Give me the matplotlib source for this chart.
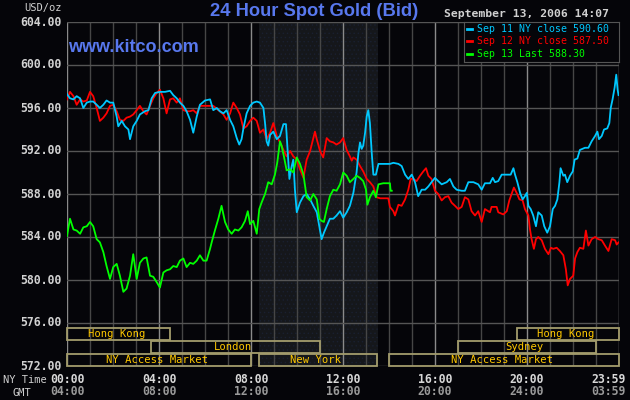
import numpy as np
import matplotlib
matplotlib.use("Agg")
import matplotlib.pyplot as plt
from matplotlib.patches import Rectangle

# Sep 11 NY close (cyan)
sep11_t = [0.0, 0.13, 0.28, 0.42, 0.57, 0.71, 0.86, 1.0, 1.14, 1.29, 1.43, 1.58, 1.72, 1.87, 2.01, 2.16, 2.23, 2.38,
           2.52, 2.67, 2.74, 2.88, 3.03, 3.17, 3.39, 3.54, 3.68, 3.83, 4.04, 4.26, 4.48, 4.62, 4.77, 4.91, 5.06, 5.20,
           5.35, 5.49, 5.64, 5.78, 6.00, 6.22,
           6.36, 6.51, 6.65, 6.80, 6.94, 7.09, 7.23, 7.38, 7.49, 7.59, 7.67, 7.81, 7.96, 8.10, 8.25, 8.39, 8.54, 8.61,
           8.68, 8.75, 8.83, 8.97, 9.12, 9.26, 9.41, 9.52, 9.58, 9.67, 9.77, 9.84, 9.91, 9.99, 10.13, 10.28, 10.42,
           10.57, 10.71, 10.86, 10.97, 11.07, 11.17, 11.29, 11.43, 11.58, 11.72, 11.87, 12.01, 12.16, 12.30,
           12.45, 12.59, 12.67, 12.74, 12.81, 12.88, 12.96, 13.03, 13.10, 13.17, 13.25, 13.32, 13.43, 13.54, 13.75,
           14.04, 14.19, 14.41, 14.55, 14.70, 14.84, 14.99, 15.13, 15.27, 15.42, 15.57, 15.71, 15.85, 16.00, 16.14,
           16.29, 16.51, 16.65, 16.80, 16.94, 17.16, 17.30, 17.45, 17.67, 17.88, 18.03, 18.17, 18.39,
           18.51, 18.61, 18.75, 18.90, 19.12, 19.29, 19.41, 19.48, 19.58, 19.70, 19.81, 19.91, 19.99, 20.06, 20.16,
           20.27, 20.39, 20.49, 20.64, 20.75, 20.88, 21.00, 21.12, 21.22, 21.32, 21.41, 21.46, 21.58, 21.65, 21.75,
           21.87, 21.99, 22.07, 22.19, 22.30, 22.52, 22.67, 22.81, 22.96, 23.06, 23.13, 23.25, 23.35, 23.49, 23.58,
           23.64, 23.72, 23.81, 23.88, 23.94, 23.98]
sep11_p = [597.3, 596.9, 596.8, 597.1, 596.9, 596.0, 596.5, 596.6, 596.6, 596.3, 596.0, 596.3, 596.7, 596.5, 596.5,
           595.2, 594.3, 594.8, 594.3, 594.0, 593.1, 594.3, 594.8, 595.4, 595.7, 595.8, 596.9, 597.4, 597.5, 597.5,
           597.6, 597.2, 596.9, 596.5, 596.2, 595.7, 594.9, 593.7, 595.2, 596.3, 596.7, 596.8,
           595.8, 596.0, 595.7, 595.5, 595.8, 594.9, 594.3, 593.2, 592.6, 593.1, 594.1, 595.5, 596.2, 596.5, 596.6,
           596.5, 596.0, 594.6, 592.9, 592.5, 593.5, 593.8, 593.1, 593.4, 594.5, 594.5, 592.5, 589.4, 590.6, 591.2,
           588.4, 586.3, 587.2, 587.8, 588.0, 587.5, 586.9, 586.3, 585.0, 583.8, 584.4, 585.0, 585.7, 585.7, 586.0,
           586.4, 585.8, 586.3, 586.9,
           588.1, 590.0, 591.8, 592.8, 592.2, 592.5, 593.7, 595.2, 595.8, 594.6, 591.8, 589.8, 589.8, 590.8, 590.8,
           590.8, 590.9, 590.8, 590.6, 589.8, 589.4, 589.8, 589.1, 587.8, 588.4, 588.4, 588.7, 589.1, 589.5, 589.2,
           588.9, 589.1, 589.4, 588.7, 588.4, 588.3, 588.3, 589.1, 589.1, 588.9, 588.4, 589.0, 589.0,
           589.5, 589.1, 589.2, 589.8, 589.8, 589.8, 590.4, 589.8, 589.1, 588.1, 587.5, 587.8, 588.1, 586.9, 586.6,
           586.0, 585.0, 586.3, 586.0, 585.0, 584.4, 585.0, 586.6, 586.9, 587.5, 589.1, 590.4, 589.7, 589.8, 589.1,
           589.7, 590.1, 591.2, 591.3, 592.1, 592.3, 592.3, 592.9, 593.4, 593.8, 593.1, 593.4, 594.0, 594.1, 594.6,
           596.0, 596.8, 597.9, 599.1, 597.7, 597.2]

# Sep 12 NY close (red)
sep12_t = [0.0, 0.13, 0.28, 0.42, 0.57, 0.71, 0.86, 1.0, 1.14, 1.29, 1.43, 1.58, 1.72, 1.87, 2.01, 2.16, 2.30, 2.45,
           2.59, 2.74, 2.88, 3.03, 3.17, 3.32, 3.46, 3.61, 3.75, 3.90, 4.04, 4.19, 4.33, 4.48, 4.62, 4.77, 4.91, 5.06,
           5.20, 5.35, 5.49, 5.64, 5.78, 6.00, 6.22,
           6.36, 6.58, 6.80, 6.94, 7.09, 7.23, 7.38, 7.52, 7.67, 7.81, 7.96, 8.10, 8.25, 8.39, 8.54, 8.68, 8.83, 8.97,
           9.12, 9.26, 9.41, 9.55, 9.70, 9.84, 9.99, 10.13, 10.28, 10.42, 10.57, 10.71, 10.78, 10.86, 11.00, 11.14,
           11.29, 11.43, 11.58, 11.72, 11.87, 12.01, 12.16, 12.30,
           12.38, 12.45, 12.59, 12.74, 12.88, 13.03, 13.17, 13.32, 13.46, 13.61, 13.97, 14.04, 14.19, 14.26, 14.41,
           14.55, 14.70, 14.84, 14.94, 15.06, 15.20, 15.35, 15.49, 15.61, 15.71, 15.85, 16.00, 16.14, 16.29, 16.43,
           16.58, 16.72, 16.87, 17.01, 17.16, 17.30, 17.45, 17.59, 17.74, 17.88, 18.03, 18.17, 18.39,
           18.46, 18.68, 18.75, 18.97, 19.12, 19.23, 19.33, 19.43, 19.55, 19.67, 19.81, 19.91, 20.06, 20.13, 20.20,
           20.30, 20.39, 20.49, 20.64, 20.78, 20.93, 21.04, 21.14, 21.29, 21.43, 21.58, 21.69, 21.77, 21.87, 22.01,
           22.09, 22.19, 22.30, 22.45, 22.56, 22.67, 22.81, 22.96, 23.10, 23.25, 23.39, 23.54, 23.68, 23.83, 23.90,
           23.98]
sep12_p = [596.8, 597.5, 597.1, 596.3, 596.8, 596.6, 596.7, 597.5, 597.1, 596.0, 594.8, 595.1, 595.5, 596.2, 596.3,
           595.7, 594.9, 594.8, 595.1, 595.2, 595.4, 595.8, 596.2, 595.7, 595.4, 596.2, 596.9, 597.4, 597.7, 596.9,
           595.5, 596.8, 596.9, 596.5, 596.9, 595.8, 595.7, 595.7, 595.8, 595.5, 596.2, 596.2, 596.2,
           596.2, 595.8, 595.4, 594.9, 595.5, 596.5, 596.0, 595.4, 594.1, 594.3, 594.8, 595.1, 594.8, 593.7, 594.0,
           593.1, 593.7, 594.6, 593.4, 592.8, 592.1, 591.5, 592.0, 591.5, 591.2, 590.3, 589.5, 591.2, 592.0, 593.2,
           593.8, 593.1, 592.0, 591.4, 593.2, 592.9, 592.8, 592.6, 592.8, 593.2, 592.1, 591.5,
           591.1, 591.4, 591.2, 590.6, 590.1, 589.4, 589.1, 588.7, 587.7, 587.6, 587.6, 586.8, 586.4, 586.0, 587.0,
           586.9, 587.5, 588.4, 589.4, 589.4, 589.2, 589.7, 590.1, 590.4, 589.7, 589.4, 588.3, 588.0, 587.4, 587.7,
           587.8, 587.2, 586.9, 586.6, 586.8, 587.7, 587.5, 586.4, 586.0, 586.4, 585.4, 586.6, 586.3,
           586.8, 586.8, 586.3, 586.1, 586.4, 587.4, 588.0, 588.6, 588.1, 587.5, 587.4, 586.6, 586.0, 584.7, 583.8,
           582.9, 583.8, 584.0, 583.7, 582.9, 582.4, 583.0, 582.9, 583.0, 582.7, 582.3, 581.0, 579.5, 580.1, 580.4,
           582.0, 582.6, 583.0, 582.9, 584.6, 583.2, 583.8, 584.0, 583.8, 583.7, 583.2, 582.7, 583.8, 583.7, 583.3,
           583.5]

# Sep 13 last (green)
sep13_t = [0.0, 0.13, 0.28, 0.42, 0.57, 0.71, 0.86, 1.0, 1.14, 1.29, 1.43, 1.58, 1.72, 1.87, 2.01, 2.16, 2.30, 2.45,
           2.59, 2.74, 2.88, 3.03, 3.17, 3.32, 3.46, 3.61, 3.75, 3.90, 4.04, 4.19, 4.33, 4.48, 4.62, 4.77, 4.91, 5.06,
           5.20, 5.35, 5.49, 5.64, 5.78, 5.93, 6.07, 6.22,
           6.29, 6.43, 6.58, 6.72, 6.87, 7.01, 7.16, 7.30, 7.45, 7.59, 7.74, 7.86, 7.96, 8.10, 8.25, 8.36, 8.46, 8.61,
           8.75, 8.90, 9.04, 9.14, 9.26, 9.33, 9.43, 9.55, 9.70, 9.84, 9.99, 10.13, 10.28, 10.42, 10.57, 10.71, 10.86,
           10.97, 11.07, 11.17, 11.29, 11.43, 11.58, 11.72, 11.87, 12.01, 12.16, 12.30,
           12.45, 12.59, 12.74, 12.88, 13.00, 13.06, 13.17, 13.32, 13.43, 13.54, 13.75, 14.04, 14.07, 14.12]
sep13_p = [584.1, 585.7, 584.7, 584.6, 584.3, 584.9, 585.0, 585.4, 585.0, 583.8, 583.5, 582.6, 581.3, 580.1, 581.2,
           581.5, 580.4, 578.9, 579.2, 580.4, 582.4, 580.1, 581.6, 582.0, 582.1, 580.4, 580.3, 579.8, 579.3, 580.7,
           580.9, 581.0, 581.3, 581.2, 581.8, 582.0, 581.2, 581.6, 581.5, 581.8, 582.3, 581.8, 581.8, 582.9,
           583.5, 584.6, 585.7, 586.9, 585.4, 584.7, 584.3, 584.7, 584.6, 584.9, 585.5, 586.4, 585.2, 585.5, 584.3,
           586.6, 587.2, 588.0, 589.1, 588.9, 589.8, 590.9, 592.9, 592.5, 591.5, 590.2, 590.3, 590.0, 591.4, 590.8,
           589.8, 587.7, 587.4, 588.0, 587.5, 585.7, 585.5, 585.4, 586.6, 587.8, 588.4, 588.3, 588.9, 590.0, 589.7,
           589.1,
           589.4, 589.7, 589.5, 589.2, 588.4, 587.0, 587.7, 588.3, 587.7, 588.9, 589.0, 589.0, 588.3, 588.3]

legend_labels = ["Sep 11 NY close 590.60", "Sep 12 NY close 587.50", "Sep 13 Last 588.30"]

# trading sessions: name, start hour, end hour, row (0 = top)
session_names = ["Hong Kong", "London", "NY Access Market", "New York", "NY Access Market", "Sydney", "Hong Kong"]
session_start = [0.0, 3.65, 0.0, 8.33, 14.0, 17.0, 19.55]
session_end = [4.5, 11.0, 8.0, 13.5, 24.0, 23.0, 24.0]
session_row = [0, 1, 2, 2, 2, 1, 0]

ny_hours = [0, 4, 8, 12, 16, 20, 24]
ny_labels = ["00:00", "04:00", "08:00", "12:00", "16:00", "20:00", "23:59"]
gmt_labels = ["04:00", "08:00", "12:00", "16:00", "20:00", "24:00", "03:59"]
price_ticks = [572, 576, 580, 584, 588, 592, 596, 600, 604]

BG = "#050509"
MONO = "DejaVu Sans Mono"
BLUE = "#5878ee"

fig = plt.figure(figsize=(6.3, 4.0), dpi=100, facecolor=BG)
ax = fig.add_axes([67 / 630, 34 / 400, 552 / 630, 344 / 400])
ax.set_facecolor(BG)
ax.set_xlim(0, 24)
ax.set_ylim(572, 604)

# comex session shading
plt.rcParams["hatch.linewidth"] = 0.5
ax.axvspan(8.33, 13.5, facecolor="#15171b", edgecolor="#1a2030", hatch="....", linewidth=0, zorder=0)

# grid
for h in range(25):
    c = "#8a8a8a" if h % 4 == 0 else "#464646"
    ax.axvline(h, color=c, linewidth=1.0, zorder=1)
for p in price_ticks:
    ax.axhline(p, color="#555555", linewidth=1.0, zorder=1)

for s in ax.spines.values():
    s.set_visible(False)
ax.set_xticks([])
ax.set_yticks([])

# price series
ax.plot(sep11_t, sep11_p, color="#00c8ff", linewidth=1.3, zorder=4)
ax.plot(sep12_t, sep12_p, color="#ff0000", linewidth=1.3, zorder=3)
ax.plot(sep13_t, sep13_p, color="#00ff00", linewidth=1.3, zorder=5)

# session boxes
row_h = 1.1
for name, a, b, r in zip(session_names, session_start, session_end, session_row):
    y0 = 572.0 + (2 - r) * 1.21
    ax.add_patch(Rectangle((a + 0.02, y0 + 0.03), b - a - 0.04, row_h,
                           fill=False, edgecolor="#a39c6c", linewidth=1.3, zorder=6, clip_on=False))
    ax.text((a + b) / 2 - 0.1, y0 + 0.03 + row_h / 2, name, color="#ffc800", fontsize=7.6, family=MONO,
            ha="center", va="center", zorder=7)

# y tick labels
for p in price_ticks:
    ax.text(-0.25, p, f"{p:.2f}", color="#d2d2d2", fontsize=8.3, family=MONO, fontweight="bold",
            ha="right", va="center", transform=ax.transData, clip_on=False)

# x tick labels (NY time and GMT)
for h, l1, l2 in zip(ny_hours, ny_labels, gmt_labels):
    xx = h if h < 24 else 23.55
    ax.text(xx, -0.04, l1, color="#d8d8d8", fontsize=8.3, family=MONO, fontweight="bold",
            ha="center", va="center", transform=ax.get_xaxis_transform(), clip_on=False)
    ax.text(xx, -0.075, l2, color="#9a9a9a", fontsize=8.3, family=MONO, fontweight="bold",
            ha="center", va="center", transform=ax.get_xaxis_transform(), clip_on=False)
fig.text(3 / 630, 1 - 380 / 400, "NY Time", color="#d0d0d0", fontsize=7.5, family=MONO, va="center")
fig.text(12 / 630, 1 - 393 / 400, "GMT", color="#d0d0d0", fontsize=7.5, family=MONO, va="center")

# header texts
fig.text(314 / 630, 1 - 11 / 400, "24 Hour Spot Gold (Bid)", color=BLUE, fontsize=13.2,
         family="Liberation Sans", fontweight="bold", ha="center", va="center")
fig.text(62 / 630, 1 - 8 / 400, "USD/oz", color="#d0d0d0", fontsize=7.5, family=MONO, ha="right", va="center")
fig.text(609 / 630, 1 - 14 / 400, "September 13, 2006 14:07", color="#d0d0d0", fontsize=8.2, family=MONO,
         fontweight="bold", ha="right", va="center")
fig.text(68 / 630, 1 - 48 / 400, "www.kitco.com", color=BLUE, fontsize=13, family="Liberation Sans",
         fontweight="bold", ha="left", va="center")

# legend box
lax = fig.add_axes([464 / 630, 1 - 62 / 400, 155 / 630, 40 / 400])
lax.set_facecolor(BG)
lax.set_xlim(0, 155)
lax.set_ylim(40, 0)
lax.set_xticks([])
lax.set_yticks([])
for s in lax.spines.values():
    s.set_color("#555555")
for i, (lab, c) in enumerate(zip(legend_labels, ["#00c8ff", "#ff0000", "#00ff00"])):
    yy = 7 + i * 12.3
    lax.plot([3, 8], [yy, yy], color=c, linewidth=2)
    lax.text(13, yy, lab, color=c, fontsize=7.1, family=MONO, va="center", ha="left")

fig.savefig("out.png", dpi=100, facecolor=BG)
